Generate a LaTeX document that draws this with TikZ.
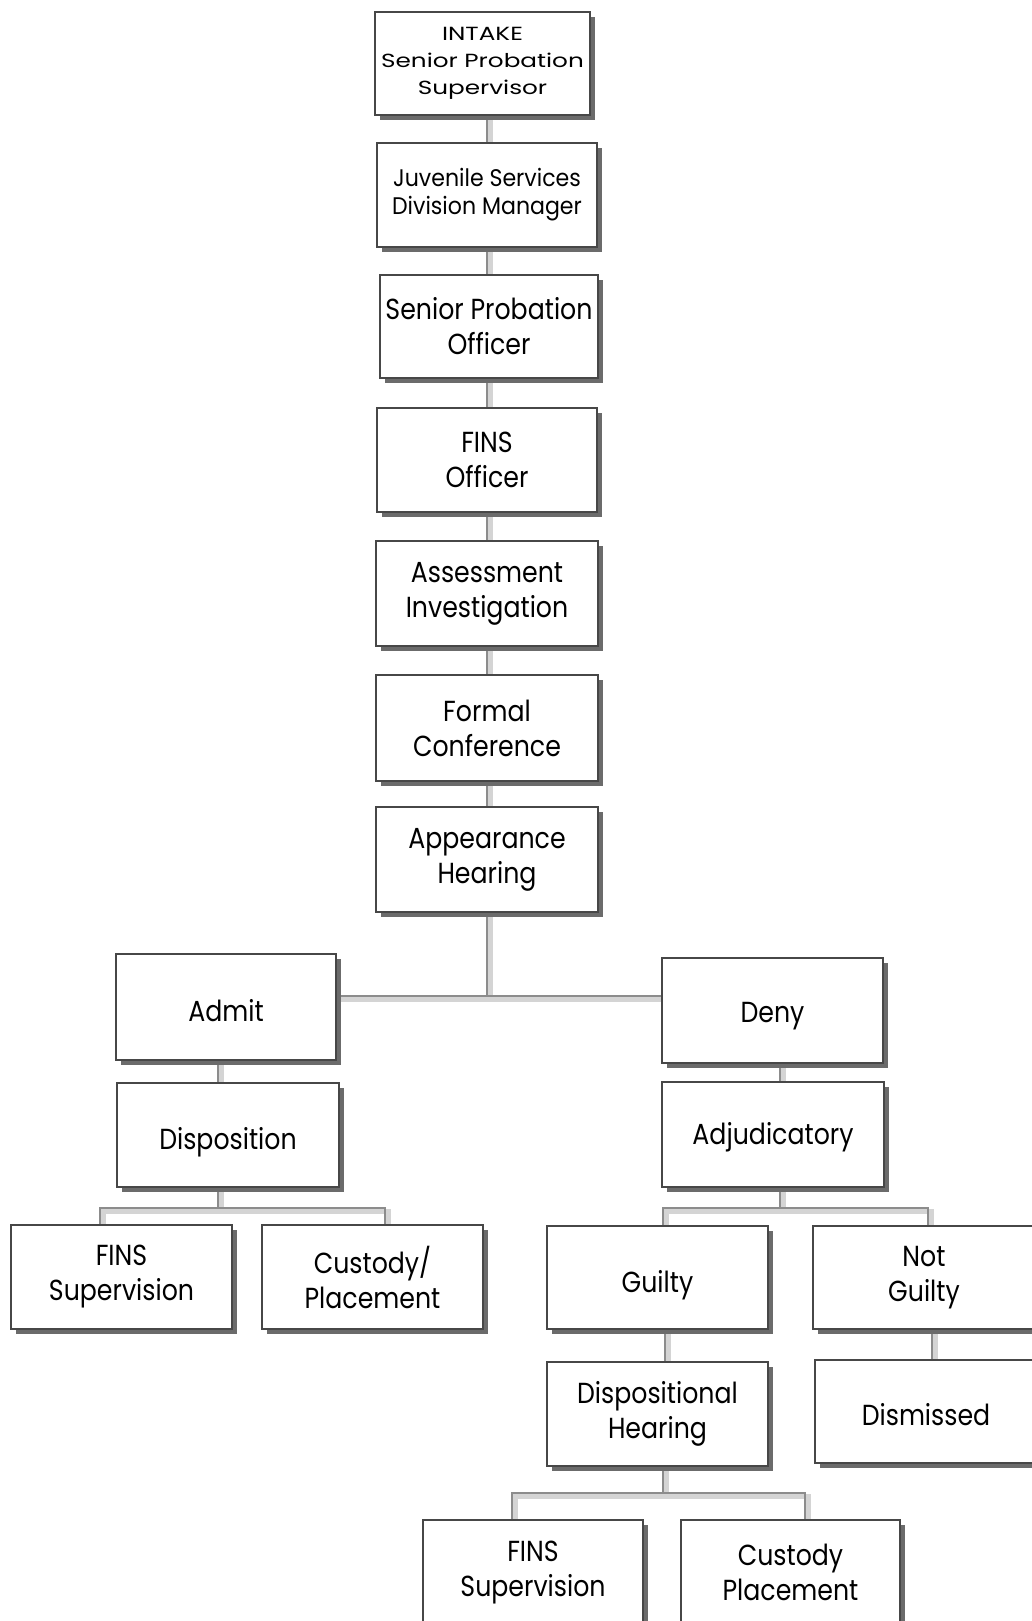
\documentclass[tikz,border=0pt]{standalone}
\usepackage{fontspec}
\setmainfont{Poppins}
\newfontfamily\boxfont{Poppins}[FakeStretch=0.87]
\newfontfamily\smallboxfont{Poppins}[FakeStretch=1.3]
\newfontfamily\midboxfont{Poppins}[FakeStretch=0.92]
\usetikzlibrary{shadows}
\pgfdeclarelayer{bg}
\pgfdeclarelayer{paper}
\pgfsetlayers{paper,bg,main}
\tikzset{
  box/.style={draw=black!72, line width=2pt, fill=white, align=center, inner sep=0pt,
    minimum width=221pt, minimum height=104pt,
    drop shadow={shadow xshift=5pt, shadow yshift=-5pt, fill=black!58, opacity=1},
    font=\boxfont\fontsize{29}{35}\selectfont},
  smalltext/.style={font=\smallboxfont\fontsize{19}{27}\selectfont},
  midtext/.style={font=\midboxfont\fontsize{24}{28}\selectfont},
  lowtext/.style={text height=29pt, text depth=0pt},
  link/.style={draw=black!45, line width=2.4pt,
    preaction={draw=black!17, line width=5pt, transform canvas={xshift=3.5pt, yshift=-3.5pt}}},
}
\begin{document}
\begin{tikzpicture}[x=1pt, y=-1pt]
\clip (0,0) rectangle (1032,1621);
\begin{pgfonlayer}{paper}
\fill[white] (0,0) rectangle (1032,1621);
\end{pgfonlayer}
% main column
\node[box, smalltext, minimum width=215pt, minimum height=103pt] (intake) at (482.5,63.5) {INTAKE\\Senior Probation\\Supervisor};
\node[box, midtext, minimum width=220pt] (juv) at (487,195) {Juvenile Services\\Division Manager};
\node[box, minimum width=218pt, minimum height=103pt] (spo) at (489,326.5) {Senior Probation\\Officer};
\node[box, minimum width=220pt] (fo) at (487,460) {FINS\\Officer};
\node[box, minimum width=222pt, minimum height=105pt] (ai) at (487,593.5) {Assessment\\Investigation};
\node[box, minimum width=222pt, minimum height=106pt] (fc) at (487,728) {Formal\\Conference};
\node[box, minimum width=222pt, minimum height=105pt] (ah) at (487,859.5) {Appearance\\Hearing};
% left branch
\node[box, lowtext, minimum width=220pt, minimum height=106pt] (admit) at (226,1007) {Admit};
\node[box, lowtext, minimum width=222pt] (disp) at (228,1135) {Disposition};
\node[box] (fins1) at (121.5,1277) {FINS\\Supervision};
\node[box] (cust1) at (372.5,1277) {Custody/\\Placement};
% right branch
\node[box, lowtext, text height=23pt, minimum width=221pt, minimum height=105pt] (deny) at (772.5,1010.5) {Deny};
\node[box, lowtext, text height=20pt, minimum width=222pt, minimum height=105pt] (adj) at (773,1134.5) {Adjudicatory};
\node[box, lowtext, minimum height=103pt] (guilty) at (657.5,1277.5) {Guilty};
\node[box, minimum width=222pt, minimum height=103pt] (notg) at (924,1277.5) {Not\\Guilty};
\node[box, minimum height=104pt] (dh) at (657.5,1414) {Dispositional\\Hearing};
\node[box, lowtext, text height=27pt, minimum width=222pt, minimum height=103pt] (dism) at (926,1411.5) {Dismissed};
\node[box, minimum width=220pt, minimum height=105pt] (fins2) at (533,1572.5) {FINS\\Supervision};
\node[box, minimum width=219pt, minimum height=105pt] (cust2) at (790.5,1572.5) {Custody\\Placement};
% junction coordinates
\coordinate (tr) at (487,0);
\coordinate (j) at (487,996);
\coordinate (la) at (218,0);
\coordinate (lb) at (218,1208);
\coordinate (ll) at (100,1208);
\coordinate (lr) at (385,1208);
\coordinate (ra) at (780,0);
\coordinate (rb) at (780,1208);
\coordinate (rl) at (663,1208);
\coordinate (rr) at (928,1208);
\coordinate (ga) at (665,0);
\coordinate (na) at (932,0);
\coordinate (db) at (663,1493);
\coordinate (dl) at (512,1493);
\coordinate (dr) at (805,1493);
\begin{pgfonlayer}{bg}
\draw[link] (intake.south -| tr) -- (juv.north -| tr);
\draw[link] (juv.south -| tr) -- (spo.north -| tr);
\draw[link] (spo.south -| tr) -- (fo.north -| tr);
\draw[link] (fo.south -| tr) -- (ai.north -| tr);
\draw[link] (ai.south -| tr) -- (fc.north -| tr);
\draw[link] (fc.south -| tr) -- (ah.north -| tr);
\draw[link] (ah.south -| tr) -- (j);
\draw[link] (admit.east |- j) -- (deny.west |- j);
\draw[link] (admit.south -| la) -- (disp.north -| la);
\draw[link] (disp.south -| la) -- (lb);
\draw[link] (fins1.north -| ll) -- (ll) -- (lr) -- (cust1.north -| lr);
\draw[link] (deny.south -| ra) -- (adj.north -| ra);
\draw[link] (adj.south -| ra) -- (rb);
\draw[link] (guilty.north -| rl) -- (rl) -- (rr) -- (notg.north -| rr);
\draw[link] (guilty.south -| ga) -- (dh.north -| ga);
\draw[link] (notg.south -| na) -- (dism.north -| na);
\draw[link] (dh.south -| db) -- (db);
\draw[link] (fins2.north -| dl) -- (dl) -- (dr) -- (cust2.north -| dr);
\end{pgfonlayer}
\end{tikzpicture}
\end{document}
